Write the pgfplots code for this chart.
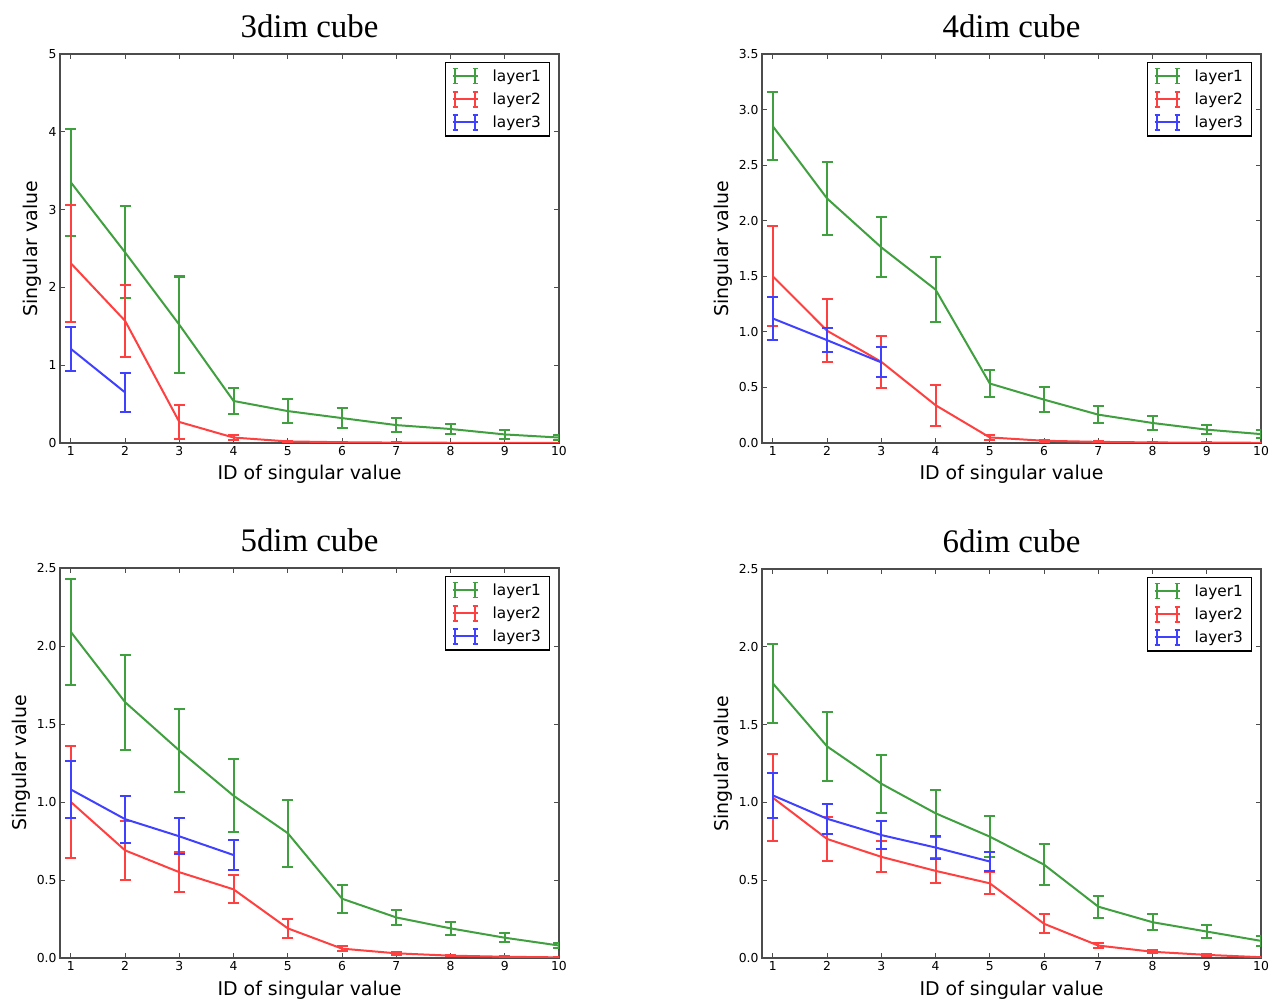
\documentclass[border=0pt]{standalone}
\usepackage{fontspec}
\setmainfont{DejaVu Sans}
\newfontfamily\titlefont{Liberation Serif}
\usepackage{pgfplots}
\pgfplotsset{compat=1.18}

\definecolor{lgreen}{RGB}{64,160,64}
\definecolor{lred}{RGB}{255,64,64}
\definecolor{lblue}{RGB}{64,64,255}

\pgfplotsset{
  legend image code/.code={
      \path[draw=none, fill=none] (0bp,0bp) -- (38bp,0bp);
      \draw[#1, line width=2bp] (0bp,0bp) -- (25bp,0bp);
      \draw[#1, line width=2bp] (2.5bp,-7.5bp) -- (2.5bp,7.5bp) (22.5bp,-7.5bp) -- (22.5bp,7.5bp);
      \draw[#1, line width=1.5bp] (0bp,-7.5bp) -- (5bp,-7.5bp) (0bp,7.5bp) -- (5bp,7.5bp)
        (20bp,-7.5bp) -- (25bp,-7.5bp) (20bp,7.5bp) -- (25bp,7.5bp);
  },
  sv/.style={
    scale only axis, width=499bp, height=389bp,
    xmin=0.8, xmax=10, ymin=0,
    xtick={1,...,10},
    tick align=inside, major tick length=5bp,
    axis line style={draw=black!70, line width=1.2bp},
    every tick/.style={black!70, line width=0.8bp},
    tick label style={font=\fontsize{12.4}{12.4}\selectfont},
    /pgf/number format/assume math mode=true,
    xlabel={ID of singular value}, ylabel={Singular value},
    label style={font=\fontsize{19}{19}\selectfont},
    xlabel style={at={(0.5,0)}, anchor=base, yshift=-37bp},
    title style={font=\titlefont\fontsize{33}{33}\selectfont, at={(0.5,1)}, anchor=base, yshift=11bp},
    legend style={at={(1,1)}, anchor=north east, xshift=-9bp, yshift=-8bp,
      draw=black, line width=1.2bp, font=\fontsize{15.4}{15.4}\selectfont,
      inner xsep=6.5bp, inner ysep=5bp, row sep=6bp},
    legend cell align=left,
  },
  eb/.style={mark=none, line width=2bp,
    error bars/.cd, y dir=both, y explicit, error mark=-,
    error bar style={line width=2bp, solid},
    error mark options={rotate=90, mark size=5.5bp, line width=2bp}},
  dec/.style={yticklabel style={/pgf/number format/.cd, fixed, fixed zerofill, precision=1}},
}

\begin{document}
\begin{tikzpicture}
\useasboundingbox (0,0) rectangle (1271bp,1003bp);

% 3dim
\begin{axis}[sv, at={(60bp,560bp)}, anchor=south west, ymax=5, ytick={0,1,2,3,4,5}, title={3dim cube}]
\addlegendimage{lgreen}\addlegendentry{layer1}
\addlegendimage{lred}\addlegendentry{layer2}
\addlegendimage{lblue}\addlegendentry{layer3}
\addplot[lgreen, forget plot, eb] coordinates {(1,3.35)+-(0,0.69) (2,2.45)+-(0,0.59) (3,1.52)+-(0,0.62) (4,0.54)+-(0,0.165) (5,0.41)+-(0,0.155) (6,0.32)+-(0,0.13) (7,0.23)+-(0,0.085) (8,0.18)+-(0,0.065) (9,0.11)+-(0,0.055) (10,0.07)+-(0,0.03)};
\addplot[lred, forget plot, eb] coordinates {(1,2.31)+-(0,0.75) (2,1.57)+-(0,0.46) (3,0.27)+-(0,0.22) (4,0.07)+-(0,0.03) (5,0.02)+-(0,0.01) (6,0.01)+-(0,0.005) (7,0.005)+-(0,0.003) (8,0.003)+-(0,0.002) (9,0.002)+-(0,0.001) (10,0.001)+-(0,0.001)};
\addplot[lblue, forget plot, eb] coordinates {(1,1.21)+-(0,0.28) (2,0.65)+-(0,0.25)};
\end{axis}

% 4dim
\begin{axis}[sv, dec, at={(762bp,560bp)}, anchor=south west, ymax=3.5, ytick={0,0.5,...,3.5}, title={4dim cube}]
\addlegendimage{lgreen}\addlegendentry{layer1}
\addlegendimage{lred}\addlegendentry{layer2}
\addlegendimage{lblue}\addlegendentry{layer3}
\addplot[lgreen, forget plot, eb] coordinates {(1,2.85)+-(0,0.305) (2,2.20)+-(0,0.325) (3,1.76)+-(0,0.27) (4,1.38)+-(0,0.295) (5,0.535)+-(0,0.125) (6,0.39)+-(0,0.11) (7,0.255)+-(0,0.075) (8,0.18)+-(0,0.06) (9,0.12)+-(0,0.04) (10,0.08)+-(0,0.035)};
\addplot[lred, forget plot, eb] coordinates {(1,1.50)+-(0,0.45) (2,1.01)+-(0,0.285) (3,0.73)+-(0,0.235) (4,0.34)+-(0,0.185) (5,0.05)+-(0,0.02) (6,0.02)+-(0,0.01) (7,0.01)+-(0,0.005) (8,0.005)+-(0,0.003) (9,0.003)+-(0,0.002) (10,0.002)+-(0,0.001)};
\addplot[lblue, forget plot, eb] coordinates {(1,1.12)+-(0,0.19) (2,0.925)+-(0,0.11) (3,0.725)+-(0,0.135)};
\end{axis}

% 5dim
\begin{axis}[sv, dec, at={(60bp,45bp)}, anchor=south west, height=390bp, ymax=2.5, ytick={0,0.5,...,2.5}, title={5dim cube}]
\addlegendimage{lgreen}\addlegendentry{layer1}
\addlegendimage{lred}\addlegendentry{layer2}
\addlegendimage{lblue}\addlegendentry{layer3}
\addplot[lgreen, forget plot, eb] coordinates {(1,2.09)+-(0,0.34) (2,1.64)+-(0,0.305) (3,1.33)+-(0,0.265) (4,1.04)+-(0,0.235) (5,0.80)+-(0,0.215) (6,0.38)+-(0,0.09) (7,0.26)+-(0,0.05) (8,0.19)+-(0,0.04) (9,0.13)+-(0,0.03) (10,0.08)+-(0,0.015)};
\addplot[lred, forget plot, eb] coordinates {(1,1.0)+-(0,0.36) (2,0.69)+-(0,0.19) (3,0.55)+-(0,0.13) (4,0.44)+-(0,0.09) (5,0.19)+-(0,0.06) (6,0.06)+-(0,0.015) (7,0.03)+-(0,0.008) (8,0.015)+-(0,0.005) (9,0.008)+-(0,0.003) (10,0.004)+-(0,0.002)};
\addplot[lblue, forget plot, eb] coordinates {(1,1.08)+-(0,0.185) (2,0.89)+-(0,0.15) (3,0.78)+-(0,0.115) (4,0.66)+-(0,0.095)};
\end{axis}

% 6dim
\begin{axis}[sv, dec, at={(762bp,45bp)}, anchor=south west, ymax=2.5, ytick={0,0.5,...,2.5}, title={6dim cube}]
\addlegendimage{lgreen}\addlegendentry{layer1}
\addlegendimage{lred}\addlegendentry{layer2}
\addlegendimage{lblue}\addlegendentry{layer3}
\addplot[lgreen, forget plot, eb] coordinates {(1,1.765)+-(0,0.255) (2,1.36)+-(0,0.22) (3,1.12)+-(0,0.185) (4,0.93)+-(0,0.15) (5,0.78)+-(0,0.13) (6,0.60)+-(0,0.13) (7,0.33)+-(0,0.07) (8,0.23)+-(0,0.05) (9,0.17)+-(0,0.04) (10,0.11)+-(0,0.03)};
\addplot[lred, forget plot, eb] coordinates {(1,1.03)+-(0,0.28) (2,0.765)+-(0,0.14) (3,0.65)+-(0,0.10) (4,0.56)+-(0,0.08) (5,0.48)+-(0,0.07) (6,0.22)+-(0,0.06) (7,0.08)+-(0,0.015) (8,0.04)+-(0,0.01) (9,0.02)+-(0,0.005) (10,0.005)+-(0,0.002)};
\addplot[lblue, forget plot, eb] coordinates {(1,1.045)+-(0,0.145) (2,0.895)+-(0,0.095) (3,0.79)+-(0,0.09) (4,0.71)+-(0,0.075) (5,0.62)+-(0,0.06)};
\end{axis}
\end{tikzpicture}
\end{document}
